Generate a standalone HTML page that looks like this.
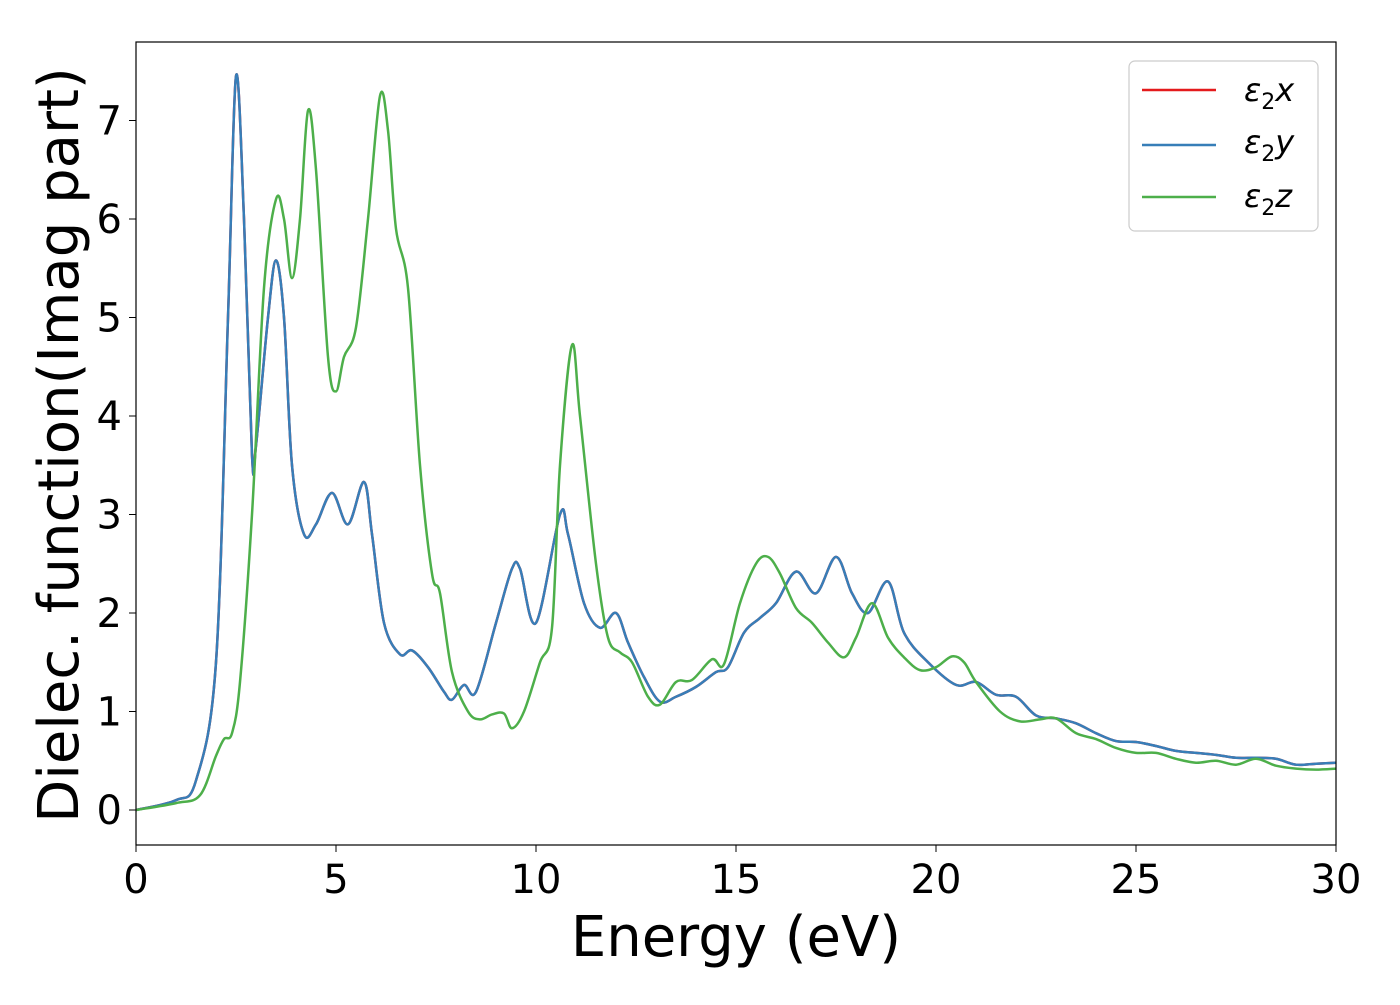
<!DOCTYPE html>
<html><head><meta charset="utf-8"><style>
body{margin:0;background:#fff}
svg text{font-family:"DejaVu Sans","Liberation Sans",sans-serif;fill:#000}
</style></head><body>
<svg id="chart" width="1400" height="1000">
<g id="ticks"></g>
<g id="lines"></g>
<rect x="136" y="42" width="1200" height="803" fill="none" stroke="#000" stroke-width="1.2"/>
<text x="736" y="956" font-size="56" text-anchor="middle">Energy (eV)</text>
<text transform="translate(78,445) rotate(-90)" font-size="56" text-anchor="middle">Dielec. function(Imag part)</text>
<g>
<rect x="1129" y="61" width="189" height="170" rx="6" fill="#fff" stroke="#ccc" stroke-width="1.2"/>
<line x1="1142" y1="90" x2="1216" y2="90" stroke="#e41a1c" stroke-width="2.5"/>
<text x="1244" y="101" font-size="32" font-style="italic">ε<tspan font-size="22" dy="8" font-style="normal">2</tspan><tspan dy="-8">x</tspan></text>
<line x1="1142" y1="145" x2="1216" y2="145" stroke="#377eb8" stroke-width="2.5"/>
<text x="1244" y="153" font-size="32" font-style="italic">ε<tspan font-size="22" dy="8" font-style="normal">2</tspan><tspan dy="-8">y</tspan></text>
<line x1="1142" y1="197" x2="1216" y2="197" stroke="#4daf4a" stroke-width="2.5"/>
<text x="1244" y="207" font-size="32" font-style="italic">ε<tspan font-size="22" dy="8" font-style="normal">2</tspan><tspan dy="-8">z</tspan></text>
</g>
</svg>
<script>
const energyXY=[0,1,1.5,2,2.3,2.5,2.7,2.9,3.0,3.3,3.5,3.7,3.9,4.2,4.5,4.9,5.3,5.7,5.9,6.2,6.6,6.9,7.3,7.7,7.9,8.2,8.5,9.0,9.4,9.6,10.0,10.6,10.8,11.2,11.6,12.0,12.3,12.7,13.1,13.5,14.0,14.5,14.8,15.2,15.6,16.0,16.5,17.0,17.5,17.9,18.3,18.8,19.2,19.8,20.5,21.0,21.5,22.0,22.5,23.0,23.5,24,24.5,25,25.5,26,26.5,27,27.5,28,28.5,29,29.5,30];
const eps2xy=[0,0.1,0.3,1.5,5,7.45,6.0,3.6,3.7,5.0,5.58,5.0,3.5,2.8,2.9,3.22,2.9,3.33,2.8,1.9,1.58,1.62,1.45,1.2,1.12,1.27,1.2,1.9,2.45,2.45,1.9,3.0,2.8,2.1,1.85,2.0,1.7,1.35,1.1,1.15,1.25,1.4,1.45,1.8,1.95,2.1,2.42,2.2,2.57,2.2,2.0,2.32,1.8,1.5,1.27,1.3,1.17,1.15,0.96,0.93,0.88,0.78,0.7,0.69,0.65,0.6,0.58,0.56,0.53,0.53,0.52,0.46,0.47,0.48];
const energyZ=[0,1,1.6,2,2.2,2.4,2.6,2.9,3.2,3.5,3.7,3.9,4.1,4.3,4.5,4.8,5.0,5.2,5.5,5.8,6.1,6.3,6.5,6.8,7.1,7.4,7.6,7.9,8.3,8.6,8.9,9.2,9.4,9.7,10.1,10.4,10.6,10.9,11.1,11.5,11.8,12.1,12.4,12.8,13.1,13.5,13.9,14.4,14.7,15.1,15.5,15.8,16.1,16.5,16.9,17.3,17.7,18.0,18.4,18.8,19.2,19.6,20.0,20.4,20.7,21.0,21.6,22.1,22.6,23.0,23.5,24.0,24.5,25.0,25.5,26,26.5,27,27.5,28,28.5,29,29.5,30];
const eps2z=[0,0.07,0.15,0.55,0.72,0.78,1.3,3.0,5.3,6.2,6.0,5.4,6.0,7.1,6.5,4.6,4.25,4.6,4.9,6.0,7.25,6.9,5.9,5.3,3.5,2.4,2.2,1.4,1.0,0.92,0.97,0.98,0.83,1.0,1.5,1.85,3.5,4.72,4.0,2.5,1.75,1.6,1.5,1.15,1.07,1.3,1.32,1.53,1.48,2.1,2.5,2.57,2.4,2.05,1.9,1.7,1.55,1.75,2.1,1.75,1.55,1.42,1.45,1.56,1.5,1.3,1.0,0.9,0.92,0.93,0.78,0.72,0.63,0.58,0.58,0.52,0.48,0.5,0.46,0.52,0.45,0.42,0.41,0.42];
const xTicks=[0,5,10,15,20,25,30];
const yTicks=[0,1,2,3,4,5,6,7];

const X=v=>136+v*40, Y=v=>810-v*98.5;
const NS="http://www.w3.org/2000/svg";
const tg=document.getElementById('ticks'), lg=document.getElementById('lines');
xTicks.forEach(t=>{
  const l=document.createElementNS(NS,'line');
  l.setAttribute('x1',X(t));l.setAttribute('x2',X(t));l.setAttribute('y1',845);l.setAttribute('y2',852);l.setAttribute('stroke','#000');
  
  
  tg.appendChild(l);
  const s=document.createElementNS(NS,'text');
  s.setAttribute('x',X(t));s.setAttribute('y',893);s.setAttribute('font-size','40');s.setAttribute('text-anchor','middle');s.textContent=t;
  
  
  tg.appendChild(s);
});
yTicks.forEach(t=>{
  const l=document.createElementNS(NS,'line');
  l.setAttribute('x1',129);l.setAttribute('x2',136);l.setAttribute('y1',Y(t));l.setAttribute('y2',Y(t));l.setAttribute('stroke','#000');
  
  
  tg.appendChild(l);
  const s=document.createElementNS(NS,'text');
  s.setAttribute('x',122);s.setAttribute('y',Y(t)+14);s.setAttribute('font-size','40');s.setAttribute('text-anchor','end');s.textContent=t;
  
  
  tg.appendChild(s);
});
function path(xs,ys){
  const p=xs.map((x,i)=>[X(x),Y(ys[i])]);
  let d='M'+p[0][0]+','+p[0][1];
  for(let i=0;i<p.length-1;i++){
    const p0=p[Math.max(i-1,0)],p1=p[i],p2=p[i+1],p3=p[Math.min(i+2,p.length-1)];
    const c1=[p1[0]+(p2[0]-p0[0])/6,p1[1]+(p2[1]-p0[1])/6];
    const c2=[p2[0]-(p3[0]-p1[0])/6,p2[1]-(p3[1]-p1[1])/6];
    d+=` C${c1[0]},${c1[1]} ${c2[0]},${c2[1]} ${p2[0]},${p2[1]}`;
  }
  return d;
}
function addLine(xs,ys,color,name){
  const e=document.createElementNS(NS,'path');
  e.setAttribute('d',path(xs,ys));e.setAttribute('fill','none');e.setAttribute('stroke',color);e.setAttribute('stroke-width','2.5');
  
  
  lg.appendChild(e);
}
addLine(energyXY,eps2xy,'#e41a1c','line-eps2x');
addLine(energyXY,eps2xy,'#377eb8','line-eps2y');
addLine(energyZ,eps2z,'#4daf4a','line-eps2z');
</script>
</body></html>
